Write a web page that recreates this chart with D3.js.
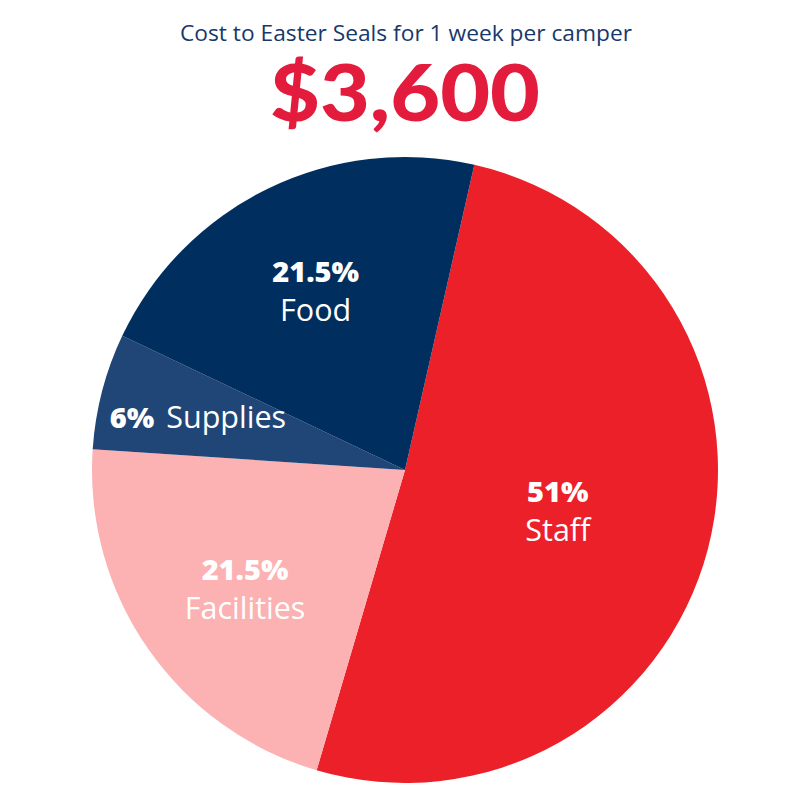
<!DOCTYPE html>
<html><head><meta charset="utf-8">
<script src="https://cdn.jsdelivr.net/npm/d3@7/dist/d3.min.js"></script>
<style>html,body{margin:0;padding:0;background:#fff;}</style>
</head><body>
<script>
const categories = ["Staff", "Facilities", "Supplies", "Food"];
const values = [51, 21.5, 6, 21.5];
const pctLabels = ["51%", "21.5%", "6%", "21.5%"];
const colors = ["#EC2029", "#FCB1B2", "#1F4676", "#002F5F"];
const title = "Cost to Easter Seals for 1 week per camper";
const total = "$3,600";

const W = 810, H = 810, cx = 405, cy = 470, R = 313;
const svg = d3.select("body").append("svg").attr("width", W).attr("height", H);

svg.append("text").attr("x", 406).attr("y", 41).attr("text-anchor", "middle")
  .attr("font-family", "Open Sans").attr("font-size", 22).attr("fill", "#17386A")
  .attr("textLength", 452).attr("lengthAdjust", "spacingAndGlyphs").text(title);
svg.append("text").attr("x", 405).attr("y", 121).attr("text-anchor", "middle")
  .attr("font-family", "Lato").attr("font-weight", 900).attr("font-size", 78).attr("fill", "#E31B3C")
  .attr("textLength", 270).attr("lengthAdjust", "spacingAndGlyphs").text(total);

const data = categories.map((c, i) => ({cat: c, value: values[i], pct: pctLabels[i], color: colors[i]}));
const start = 12.8 * Math.PI / 180;
const pie = d3.pie().value(d => d.value).sort(null).startAngle(start).endAngle(start + 2 * Math.PI);
const arcs = pie(data);
const arc = d3.arc().innerRadius(0).outerRadius(R);
const g = svg.append("g").attr("transform", `translate(${cx},${cy})`);
g.selectAll("path").data(arcs).join("path").attr("d", arc).attr("fill", d => d.data.color);

const labelR = {Staff: 160, Facilities: 206, Supplies: 214, Food: 200};
const labelDx = {Staff: -2, Facilities: 9, Supplies: 0, Food: -2};
const fs = 30.5;
arcs.forEach(a => {
  const m = (a.startAngle + a.endAngle) / 2;
  const r = labelR[a.data.cat];
  const x = Math.sin(m) * r + labelDx[a.data.cat], y = -Math.cos(m) * r;
  if (a.data.cat === "Supplies") {
    const t = g.append("text").attr("x", x).attr("y", y + 12).attr("text-anchor", "middle")
      .attr("font-family", "Open Sans").attr("font-size", fs).attr("fill", "#fff");
    t.append("tspan").attr("font-weight", 800).attr("font-size", 29).text(a.data.pct);
    t.append("tspan").attr("dx", 12).text(a.data.cat);
  } else {
    g.append("text").attr("x", x).attr("y", y - 8).attr("text-anchor", "middle")
      .attr("font-family", "Open Sans").attr("font-weight", 800).attr("font-size", 29).attr("fill", "#fff").text(a.data.pct);
    g.append("text").attr("x", x).attr("y", y + 31).attr("text-anchor", "middle")
      .attr("font-family", "Open Sans").attr("font-size", fs).attr("fill", "#fff").text(a.data.cat);
  }
});
</script>
</body></html>
